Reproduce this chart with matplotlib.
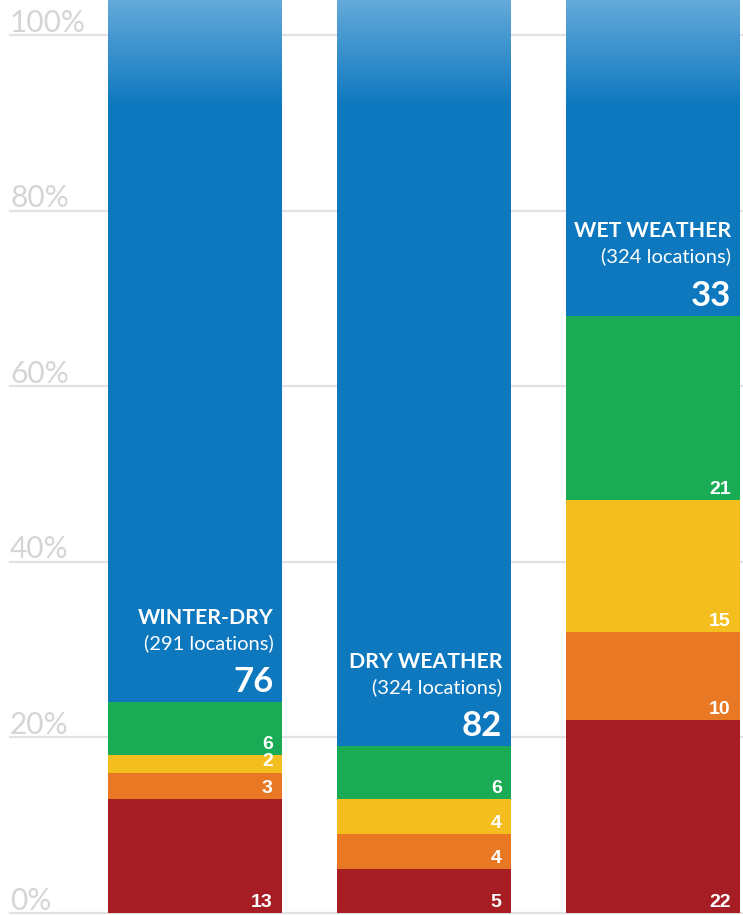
import matplotlib.pyplot as plt
import numpy as np
from matplotlib.colors import LinearSegmentedColormap

# survey groups, bottom-to-top segments: red, orange, yellow, green, blue
groups = ["WINTER-DRY", "DRY WEATHER", "WET WEATHER"]
locations = ["(291 locations)", "(324 locations)", "(324 locations)"]
red = [13, 5, 22]
orange = [3, 4, 10]
yellow = [2, 4, 15]
green = [6, 6, 21]
blue = [76, 82, 33]
yticks = [0, 20, 40, 60, 80, 100]

colors = ["#a61e23", "#e87824", "#f5be1f", "#1aac55", "#0e78bf"]
top_light = "#63a9d9"

W, H = 743, 915
fig = plt.figure(figsize=(W / 100, H / 100), dpi=100)
ax = fig.add_axes([0, 0, 1, 1])

px_per_pct = 8.78
y0 = -2 / px_per_pct
y1 = y0 + H / px_per_pct
xl = (-0.853, 2.391)

x = np.arange(len(groups))
width = 0.76

# gridlines and percent labels
for t in yticks:
    ax.axhline(t, xmin=10 / W, xmax=1, color="#e2e2e2", lw=1.6, zorder=0)
    ax.annotate(f"{t}%", xy=(10 / W, t), xycoords=("axes fraction", "data"),
                xytext=(0, 2.5), textcoords="offset points",
                ha="left", va="baseline", fontsize=21.5, color="#d5d5d5",
                family="Lato", fontweight="normal")

segments = [red, orange, yellow, green]
bottom = np.zeros(len(groups))
for seg, c in zip(segments, colors[:4]):
    ax.bar(x, seg, width, bottom=bottom, color=c, zorder=2, linewidth=0)
    for i, v in enumerate(seg):
        ax.annotate(str(v), xy=(x[i] + width / 2, bottom[i]),
                    xytext=(-7, 4.5), textcoords="offset points",
                    ha="right", va="baseline", fontsize=14, color="white",
                    family="Liberation Sans", fontweight="bold", zorder=5)
    bottom += np.array(seg)

# blue remainder, continued up to the top edge
ax.bar(x, blue, width, bottom=bottom, color=colors[4], zorder=2, linewidth=0)
tops = bottom + np.array(blue)
ax.bar(x, y1 - tops, width, bottom=tops, color=colors[4], zorder=2, linewidth=0)

# fade the top of every column to a lighter blue, one pixel row per slice
cmap = LinearSegmentedColormap.from_list("fade", [colors[4], top_light])
n_rows = 105
step = 1 / px_per_pct
g_start = y1 - n_rows * step
for k in range(n_rows):
    ax.bar(x, step, width, bottom=g_start + k * step,
           color=cmap(k / (n_rows - 1)), zorder=3, linewidth=0)

for i in range(len(groups)):
    xy = (x[i] + width / 2, bottom[i])
    ax.annotate(str(blue[i]), xy=xy, xytext=(-6.5, 7.5), textcoords="offset points",
                ha="right", va="baseline", fontsize=25, color="white",
                family="Lato", fontweight="bold", zorder=5)
    ax.annotate(locations[i], xy=xy, xytext=(-6.5, 38.5), textcoords="offset points",
                ha="right", va="baseline", fontsize=14.5, color="white",
                family="Lato", fontweight="normal", zorder=5)
    ax.annotate(groups[i], xy=xy, xytext=(-6.5, 56.5), textcoords="offset points",
                ha="right", va="baseline", fontsize=15.3, color="white",
                family="Lato", fontweight="bold", zorder=5)

ax.set_xlim(*xl)
ax.set_ylim(y0, y1)
ax.axis("off")
fig.savefig("out.png", dpi=100)
